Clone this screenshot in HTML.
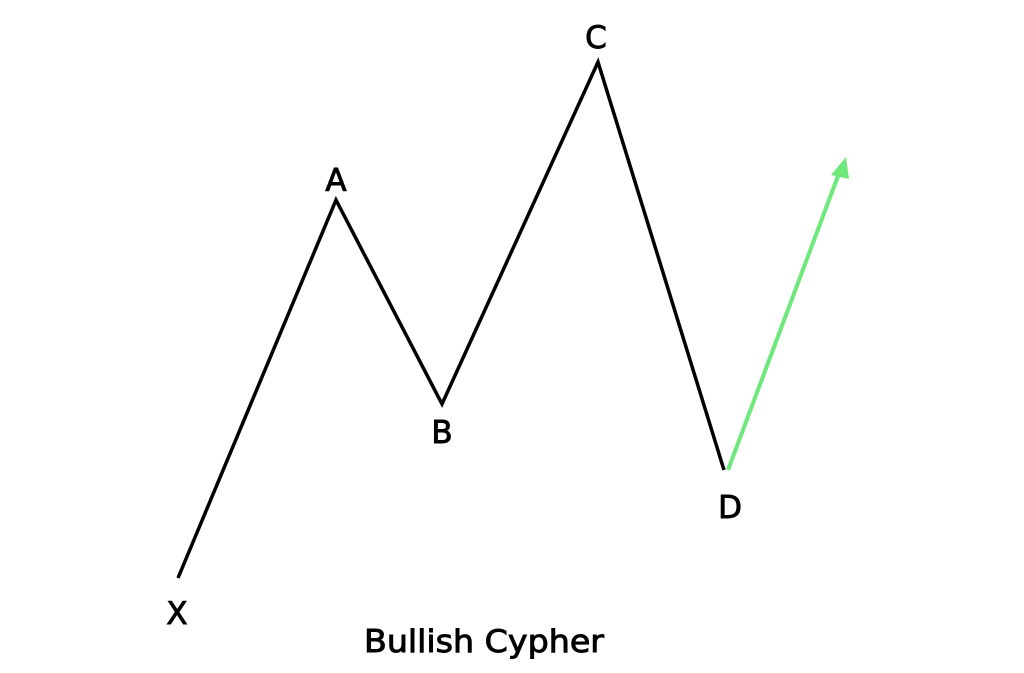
<!DOCTYPE html>
<html><head><style>html,body{margin:0;padding:0;background:#fff;}</style></head>
<body>
<svg width="1024" height="668" viewBox="0 0 1024 668" xmlns="http://www.w3.org/2000/svg">
<polyline points="178,578 336,200 442,404 598,62 724,470" fill="none" stroke="#000" stroke-width="3.5" stroke-linejoin="miter"/>
<line x1="728" y1="470" x2="838" y2="176" stroke="#6ee87a" stroke-width="4"/>
<polygon points="846,157 831,175 849,179" fill="#6ee87a"/>
<g font-family="DejaVu Sans, Liberation Sans, sans-serif" font-size="31" fill="#000" stroke="#000" stroke-width="0.9">
<text x="336" y="191" text-anchor="middle">A</text>
<text x="442" y="443" text-anchor="middle">B</text>
<text x="596" y="48" text-anchor="middle">C</text>
<text x="730" y="518" text-anchor="middle">D</text>
<text x="177" y="624" text-anchor="middle">X</text>
<text x="364" y="652" textLength="240" lengthAdjust="spacingAndGlyphs">Bullish Cypher</text>
</g>
</svg>
</body></html>
